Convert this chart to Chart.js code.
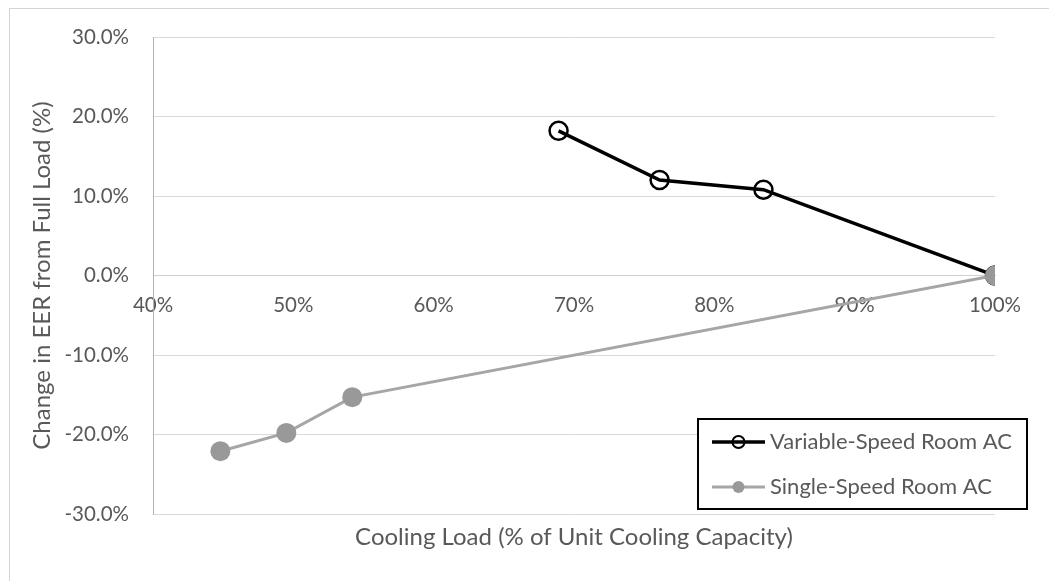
<!DOCTYPE html>
<html>
<head>
<meta charset="utf-8">
<script src="https://cdn.jsdelivr.net/npm/chart.js@4.4.1/dist/chart.umd.min.js"></script>
<style>
  html, body { margin: 0; padding: 0; background: #fff; overflow: hidden; }
  #wrap { position: relative; width: 1049px; height: 581px; }
  #frame { position: absolute; left: 9px; top: 8px; width: 1100px; height: 700px;
           border-left: 1px solid #d4d4d4; border-top: 1px solid #d4d4d4; }
  canvas { position: absolute; left: 0; top: 0; }
</style>
</head>
<body>
<div id="wrap">
  <div id="frame"></div>
  <canvas id="myChart" width="1049" height="581"></canvas>
</div>
<script>
const seriesNames = ['Variable-Speed Room AC', 'Single-Speed Room AC'];

// cooling load (%) and change in EER (%)
const variableLoad = [68.9, 76.1, 83.5, 100];
const variableEER = [18.2, 12.0, 10.8, 0];
const singleLoad = [44.8, 49.5, 54.2, 100];
const singleEER = [-22.1, -19.8, -15.3, 0];

const xTicks = [40, 50, 60, 70, 80, 90, 100];
const yTicks = [-30, -20, -10, 0, 10, 20, 30];

const textColor = '#595959';
const fontFamily = 'Lato, "Liberation Sans", sans-serif';

function toPoints(xs, ys) {
    return xs.map((x, i) => ({ x: x, y: ys[i] }));
}

// legend box drawn inside the plot, lower right
const boxLegend = {
    id: 'boxLegend',
    afterDraw(chart) {
        const ctx = chart.ctx;
        const area = chart.chartArea;
        const left = area.right - 297;
        const right = area.right + 32;
        const top = area.bottom - 95;
        const bottom = area.bottom - 5;
        ctx.save();
        ctx.fillStyle = '#fff';
        ctx.fillRect(left, top, right - left, bottom - top);
        ctx.strokeStyle = '#000';
        ctx.lineWidth = 2;
        ctx.strokeRect(left, top, right - left, bottom - top);

        const order = [1, 0]; // variable first, single second
        order.forEach((di, row) => {
            const ds = chart.data.datasets[di];
            const y = top + 23 + row * 45;
            const x0 = left + 14;
            const x1 = left + 67;
            ctx.strokeStyle = ds.borderColor;
            ctx.lineWidth = ds.borderWidth;
            ctx.beginPath();
            ctx.moveTo(x0, y);
            ctx.lineTo(x1, y);
            ctx.stroke();
            ctx.beginPath();
            ctx.arc((x0 + x1) / 2, y, 6, 0, Math.PI * 2);
            if (di === 0) {
                ctx.fillStyle = ds.pointBackgroundColor;
                ctx.fill();
            } else {
                ctx.lineWidth = 2;
                ctx.strokeStyle = ds.pointBorderColor;
                ctx.stroke();
            }
            ctx.fillStyle = textColor;
            ctx.font = '22px ' + fontFamily;
            ctx.textBaseline = 'middle';
            ctx.textAlign = 'left';
            ctx.fillText(ds.label, x1 + 5, y);
        });
        ctx.restore();
    }
};

let myChart = new Chart('myChart', {
    type: 'scatter',
    data: {
        datasets: [{
            label: seriesNames[1],
            data: toPoints(singleLoad, singleEER),
            showLine: true,
            borderColor: '#a6a6a6',
            borderWidth: 3,
            pointRadius: 10,
            pointHoverRadius: 10,
            pointBackgroundColor: '#999999',
            pointBorderColor: '#999999',
            pointBorderWidth: 0,
            order: 0
        }, {
            label: seriesNames[0],
            data: toPoints(variableLoad, variableEER),
            showLine: true,
            borderColor: '#000000',
            borderWidth: 3.5,
            pointRadius: 9,
            pointHoverRadius: 9,
            pointBackgroundColor: 'rgba(0,0,0,0)',
            pointBorderColor: '#000000',
            pointBorderWidth: 2.5,
            order: 1
        }]
    },
    options: {
        responsive: false,
        animation: false,
        layout: { padding: { left: 9, top: 37, right: 54, bottom: 0 } },
        plugins: {
            legend: { display: false },
            tooltip: { enabled: false },
            title: {
                display: true,
                position: 'bottom',
                fullSize: false,
                text: 'Cooling Load (% of Unit Cooling Capacity)',
                color: textColor,
                font: { family: fontFamily, size: 24, weight: 'normal' },
                padding: { top: 8.6, bottom: 29.6 }
            }
        },
        scales: {
            x: {
                type: 'linear',
                position: { y: 0 },
                min: 40,
                max: 100,
                afterBuildTicks: (scale) => { scale.ticks = xTicks.map(v => ({ value: v })); },
                grid: { display: false, drawTicks: false },
                border: { color: '#d0d0d0' },
                ticks: {
                    color: textColor,
                    font: { family: fontFamily, size: 20.5 },
                    padding: 18,
                    maxRotation: 0,
                    callback: (v) => v + '%'
                }
            },
            y: {
                min: -30,
                max: 30,
                afterBuildTicks: (scale) => { scale.ticks = yTicks.map(v => ({ value: v })); },
                afterFit: (scale) => { scale.width = 144; },
                grid: { color: '#d9d9d9', drawTicks: false },
                border: { color: '#b3b3b3' },
                ticks: {
                    color: textColor,
                    font: { family: fontFamily, size: 20.5 },
                    padding: 24,
                    callback: (v) => v.toFixed(1) + '%'
                },
                title: {
                    display: true,
                    text: 'Change in EER from Full Load (%)',
                    color: textColor,
                    font: { family: fontFamily, size: 24 },
                    padding: { top: 19, bottom: 0 }
                }
            }
        }
    },
    plugins: [boxLegend]
});
</script>
</body>
</html>
